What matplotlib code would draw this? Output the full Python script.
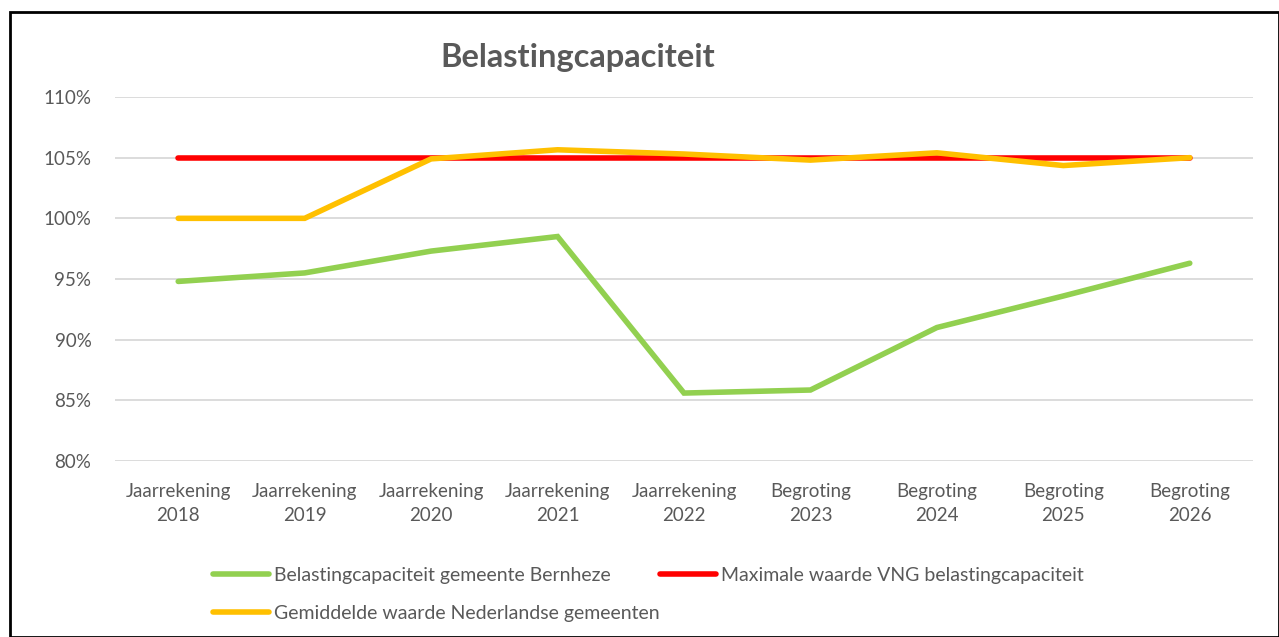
import matplotlib
matplotlib.use("Agg")
import matplotlib.pyplot as plt
from matplotlib.patches import Rectangle
from matplotlib.ticker import FuncFormatter

categories = ["Jaarrekening\n2018", "Jaarrekening\n2019", "Jaarrekening\n2020", "Jaarrekening\n2021",
              "Jaarrekening\n2022", "Begroting\n2023", "Begroting\n2024", "Begroting\n2025", "Begroting\n2026"]
bernheze = [94.8, 95.5, 97.3, 98.5, 85.6, 85.85, 91.0, 93.6, 96.3]
vng_max = [105, 105, 105, 105, 105, 105, 105, 105, 105]
nl_avg = [100, 100, 104.9, 105.65, 105.3, 104.8, 105.4, 104.35, 105]
yticks = [80, 85, 90, 95, 100, 105, 110]

plt.rcParams['font.family'] = ['Lato', 'DejaVu Sans']
fig = plt.figure(figsize=(12.79, 6.37), dpi=100)
ax = fig.add_axes([115/1279, 1-461/637, (1253-115)/1279, (461-97)/637])

x = list(range(len(categories)))
l1, = ax.plot(x, bernheze, color="#92D050", lw=4, solid_capstyle="round", solid_joinstyle="miter", zorder=3)
l2, = ax.plot(x, vng_max, color="#FF0000", lw=4, solid_capstyle="round", zorder=3)
l3, = ax.plot(x, nl_avg, color="#FFC000", lw=4, solid_capstyle="round", solid_joinstyle="miter", zorder=4)

ax.set_xlim(-0.5, len(categories) - 0.5)
ax.set_ylim(80, 110)
ax.set_yticks(yticks)
ax.yaxis.set_major_formatter(FuncFormatter(lambda v, p: f"{v:.0f}%"))
ax.set_xticks(x)
ax.set_xticklabels(categories, linespacing=1.45)
ax.grid(axis="y", color="#D9D9D9", lw=1.3)
ax.set_axisbelow(True)
for s in ax.spines.values():
    s.set_visible(False)
ax.tick_params(axis="both", length=0, labelsize=13.5, colors="#595959")
ax.tick_params(axis="x", pad=16)
ax.tick_params(axis="y", pad=17)

fig.text(578/1279, 1-58/637, "Belastingcapaciteit", ha="center", va="center",
         fontsize=23.5, fontweight="bold", color="#595959")

leg_kw = dict(loc="upper left", frameon=False, fontsize=14, labelcolor="#595959",
              handlelength=2.9, handletextpad=0.25, labelspacing=1.1, borderaxespad=0)
leg1 = fig.legend([l1, l3],
                  ["Belastingcapaciteit gemeente Bernheze", "Gemiddelde waarde Nederlandse gemeenten"],
                  bbox_to_anchor=(205/1279, 1-559/637), **leg_kw)
leg2 = fig.legend([l2], ["Maximale waarde VNG belastingcapaciteit"],
                  bbox_to_anchor=(652/1279, 1-559/637), **leg_kw)

fig.patches.append(Rectangle((10/1279, 0), 1 - 10/1279, 1 - 12/637, transform=fig.transFigure,
                             fill=False, edgecolor="black", lw=2))
fig.savefig("out.png", dpi=100, facecolor="white")
